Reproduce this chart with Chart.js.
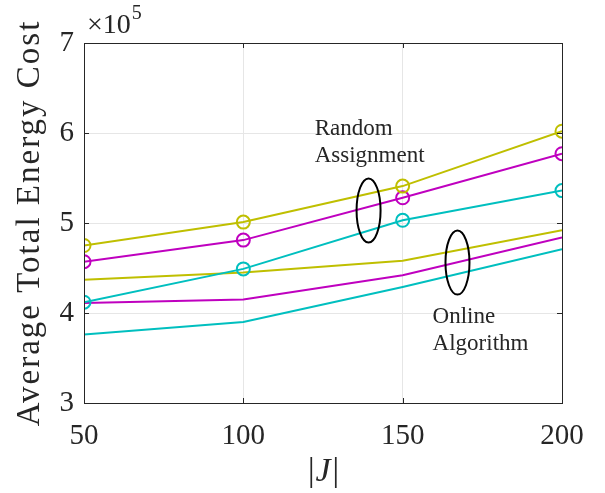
<!DOCTYPE html>
<html>
<head>
<meta charset="utf-8">
<script src="https://cdn.jsdelivr.net/npm/chart.js@4/dist/chart.umd.min.js"></script>
<style>
  html, body { margin: 0; padding: 0; background: #fff; }
  #wrap { width: 605px; height: 493px; position: relative; }
</style>
</head>
<body>
<div id="wrap"><canvas id="chart"></canvas></div>
<script>
// x values: |J|
const jValues = [50, 100, 150, 200];
// total energy cost, in units of 1e5
const randomYellow  = [4.75, 5.01, 5.41, 6.02];
const randomMagenta = [4.57, 4.81, 5.28, 5.77];
const randomCyan    = [4.12, 4.49, 5.03, 5.36];
const onlineYellow  = [4.37, 4.45, 4.58, 4.92];
const onlineMagenta = [4.11, 4.15, 4.42, 4.84];
const onlineCyan    = [3.76, 3.90, 4.29, 4.71];
const xTicks = [50, 100, 150, 200];
const yTicks = [3, 4, 5, 6, 7];

const YEL = "#bfbf00", MAG = "#bf00bf", CYA = "#00bfbf";
const FONT = "'Liberation Serif', 'DejaVu Serif', serif";
const INK = "#262626";

function pts(vals) {
  return vals.map((v, i) => ({ x: jValues[i], y: v }));
}

function series(label, vals, color, marker) {
  return {
    label,
    data: pts(vals),
    borderColor: color,
    backgroundColor: "rgba(0,0,0,0)",
    borderWidth: 2,
    pointRadius: marker ? 6.5 : 0,
    pointBorderWidth: 2,
    pointBorderColor: color,
    pointBackgroundColor: "rgba(0,0,0,0)",
    tension: 0
  };
}

// callouts: ellipse + text, positions in data coords
const callouts = [
  { cx: 139.3, cy: 5.14, rx: 12, ry: 32, lines: ["Random", "Assignment"], tx: 122.4, ty: 6.04 },
  { cx: 167.2, cy: 4.56, rx: 12, ry: 32, lines: ["Online", "Algorithm"], tx: 159.4, ty: 3.96 }
];

const matlabBox = {
  id: "matlabBox",
  afterDatasetsDraw(chart) {
    const { ctx, chartArea: a, scales } = chart;
    const x = scales.x, y = scales.y;
    ctx.save();
    // box
    ctx.strokeStyle = INK;
    ctx.lineWidth = 1;
    ctx.strokeRect(a.left + 0.5, a.top + 0.5, a.right - a.left, a.bottom - a.top);
    // inward ticks
    xTicks.forEach(t => {
      const px = Math.round(x.getPixelForValue(t)) + 0.5;
      ctx.beginPath();
      ctx.moveTo(px, a.bottom); ctx.lineTo(px, a.bottom - 5);
      ctx.moveTo(px, a.top); ctx.lineTo(px, a.top + 5);
      ctx.stroke();
    });
    yTicks.forEach(t => {
      const py = Math.round(y.getPixelForValue(t)) + 0.5;
      ctx.beginPath();
      ctx.moveTo(a.left, py); ctx.lineTo(a.left + 5, py);
      ctx.moveTo(a.right, py); ctx.lineTo(a.right - 5, py);
      ctx.stroke();
    });
    // callouts
    ctx.strokeStyle = "#000";
    ctx.lineWidth = 2;
    ctx.fillStyle = INK;
    ctx.font = "23px " + FONT;
    ctx.textBaseline = "middle";
    ctx.textAlign = "left";
    callouts.forEach(c => {
      ctx.beginPath();
      ctx.ellipse(x.getPixelForValue(c.cx), y.getPixelForValue(c.cy), c.rx, c.ry, 0, 0, Math.PI * 2);
      ctx.stroke();
      const tx = x.getPixelForValue(c.tx), ty = y.getPixelForValue(c.ty);
      c.lines.forEach((s, i) => ctx.fillText(s, tx, ty + i * 27));
    });
    // exponent label
    ctx.font = "28px " + FONT;
    ctx.textBaseline = "alphabetic";
    ctx.fillText("\u00d710", a.left + 3, a.top - 10);
    const w = ctx.measureText("\u00d710").width;
    ctx.font = "20px " + FONT;
    ctx.fillText("5", a.left + 3 + w + 1, a.top - 24);

    // axis titles
    ctx.textAlign = "center";
    ctx.textBaseline = "middle";
    ctx.font = "italic 34px " + FONT;
    ctx.fillText("|J|", x.getPixelForValue(125), 472);
    ctx.save();
    ctx.translate(30, (a.top + a.bottom) / 2);
    ctx.rotate(-Math.PI / 2);
    ctx.font = "33px " + FONT;
    ctx.letterSpacing = "2px";
    ctx.fillText("Average Total Energy Cost", 0, 0);
    ctx.restore();
    ctx.restore();
  }
};

new Chart(document.getElementById("chart"), {
  type: "line",
  data: {
    datasets: [
      series("Random Yellow", randomYellow, YEL, true),
      series("Random Magenta", randomMagenta, MAG, true),
      series("Random Cyan", randomCyan, CYA, true),
      series("Online Yellow", onlineYellow, YEL, false),
      series("Online Magenta", onlineMagenta, MAG, false),
      series("Online Cyan", onlineCyan, CYA, false)
    ]
  },
  options: {
    responsive: true,
    maintainAspectRatio: false,
    animation: false,
    layout: { padding: { top: 43, right: 43, left: 0, bottom: 0 } },
    plugins: { legend: { display: false }, tooltip: { enabled: false } },
    scales: {
      x: {
        type: "linear",
        min: 50, max: 200,
        afterBuildTicks: s => { s.ticks = xTicks.map(v => ({ value: v })); },
        afterFit: s => { s.height = 90; },
        ticks: { color: INK, font: { family: FONT, size: 29 }, padding: 16, maxRotation: 0 },
        grid: { color: "#e6e6e6", drawTicks: false },
        border: { color: INK }
      },
      y: {
        type: "linear",
        min: 3, max: 7,
        afterBuildTicks: s => { s.ticks = yTicks.map(v => ({ value: v })); },
        afterFit: s => { s.width = 84; },
        ticks: { color: INK, font: { family: FONT, size: 29 }, padding: 10 },
        grid: { color: "#e6e6e6", drawTicks: false },
        border: { color: INK }
      }
    }
  },
  plugins: [matlabBox]
});
</script>
</body>
</html>
